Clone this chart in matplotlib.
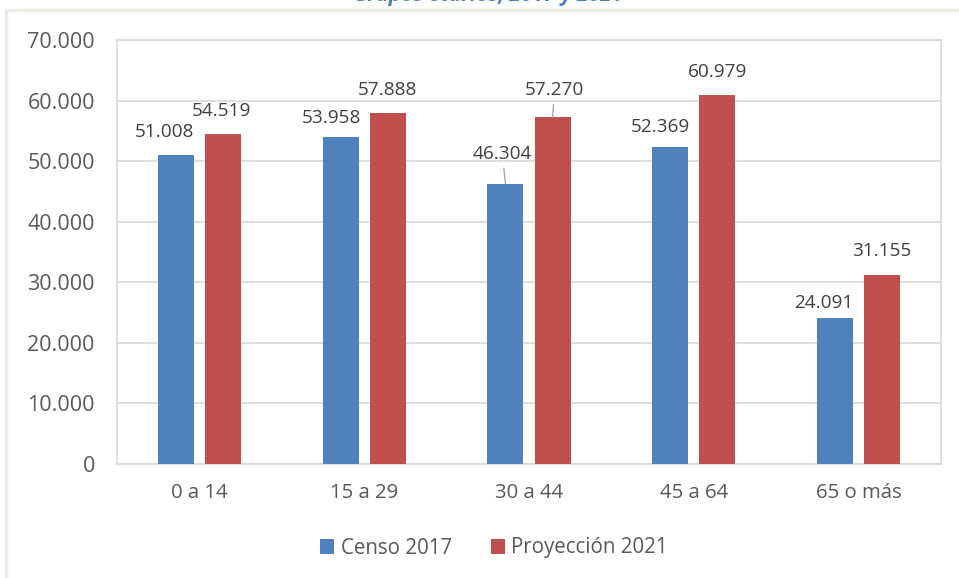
import matplotlib.pyplot as plt
import matplotlib.patches as mpatches
import numpy as np

# Data
grupos = ['0 a 14', '15 a 29', '30 a 44', '45 a 64', '65 o más']
censo_2017 = [51008, 53958, 46304, 52369, 24091]
proyeccion_2021 = [54519, 57888, 57270, 60979, 31155]
series_names = ['Censo 2017', 'Proyección 2021']
y_ticks = [0, 10000, 20000, 30000, 40000, 50000, 60000, 70000]
titulo = 'Grupos etarios, 2017 y 2021'

# label nudges in pixels (dx, dy) and which ones get a leader line
blue_dx = [-11, -9, -3, -10, -11]
blue_dy = [18, 14, 25, 15, 10]
red_dx = [-1, 0, 2, 0, 0]
red_dy = [18, 18, 22, 18, 19]
leader = [False, False, True, False, False]

plt.rcParams['font.family'] = ['Open Sans', 'DejaVu Sans']

blue = '#4F81BD'
red = '#C0504D'
grid_c = '#D9D9D9'
txt_c = '#595959'

fig = plt.figure(figsize=(9.59, 5.78), dpi=100)
ax = fig.add_axes([117 / 959, 1 - 464 / 578, 824 / 959, 424 / 578])

x_pos = np.arange(len(grupos))
bar_width = 0.218
off = 0.143

ax.bar(x_pos - off, censo_2017, bar_width, color=blue, label=series_names[0], zorder=3)
ax.bar(x_pos + off, proyeccion_2021, bar_width, color=red, label=series_names[1], zorder=3)

ax.set_xlim(-0.5, len(grupos) - 0.5)
ax.set_ylim(0, 70000)
ax.set_yticks(y_ticks)
ax.set_yticklabels([f'{v:,}'.replace(',', '.') for v in y_ticks])
ax.set_xticks(x_pos)
ax.set_xticklabels(grupos)
ax.tick_params(axis='y', length=0, pad=16, labelsize=15.5, labelcolor=txt_c)
ax.tick_params(axis='x', length=0, pad=14, labelsize=14.7, labelcolor=txt_c)
ax.yaxis.grid(True, color=grid_c, linewidth=1.2, zorder=0)
for s in ax.spines.values():
    s.set_color(grid_c)
    s.set_linewidth(1.2)

def fmt(v):
    return f'{v:,}'.replace(',', '.')

for i in range(len(grupos)):
    for vals, dxs, dys, xo in [(censo_2017, blue_dx, blue_dy, -off),
                               (proyeccion_2021, red_dx, red_dy, off)]:
        kw = {}
        if leader[i]:
            kw['arrowprops'] = dict(arrowstyle='-', color='#A6A6A6', lw=1,
                                    shrinkA=2, shrinkB=0)
        ax.annotate(fmt(vals[i]), (i + xo, vals[i]),
                    xytext=(dxs[i], dys[i]), textcoords='offset pixels',
                    ha='center', va='baseline', fontsize=13.7, color='#404040',
                    zorder=4, **kw)

fig.legend(loc='center', bbox_to_anchor=(494 / 959, 1 - 548 / 578), ncol=2,
           frameon=False, fontsize=14.8, labelcolor=txt_c, handlelength=0.7,
           handleheight=0.7, handletextpad=0.3, columnspacing=1.9)

# outer chart border
fig.patches.append(mpatches.Rectangle((6 / 959, -0.1), 1.1, 1 - 10 / 578 + 0.1,
                                      transform=fig.transFigure, fill=False,
                                      edgecolor='#EEECE1', linewidth=2.5))

# title, mostly cut off at the top edge
fig.text(488 / 959, 1 - 1 / 578, titulo, ha='center', va='baseline',
         fontsize=15, fontweight='bold', fontstyle='italic', color='#4A7EBB')

plt.savefig('out.png', dpi=100)
